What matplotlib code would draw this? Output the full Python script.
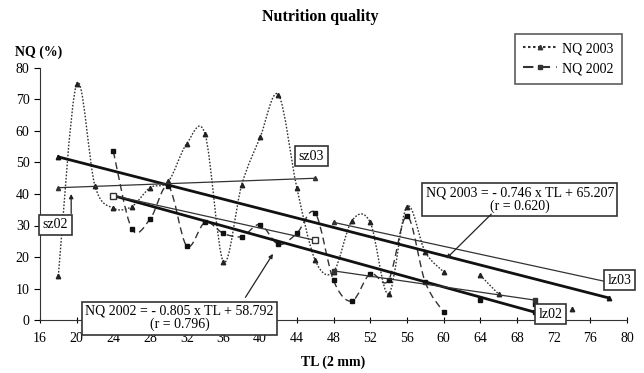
import numpy as np
import matplotlib.pyplot as plt
from matplotlib.path import Path
from matplotlib.patches import PathPatch

plt.rcParams['font.family'] = ['Liberation Serif', 'DejaVu Serif']

# NQ per length class (TL, 2 mm classes); nan = no value
tl = [18, 20, 22, 24, 26, 28, 30, 32, 34, 36, 38, 40, 42, 44, 46, 48, 50, 52,
      54, 56, 58, 60, 62, 64, 66, 68, 70, 72, 74]
nq_2003 = [14, 75, 42.5, 35.5, 36, 42, 44, 56, 59, 18.5, 43, 58, 71.5, 42, 19,
           15.3, 31.5, 31, 8.2, 36, 21.6, 15.3, np.nan, 14.2, 8.2, np.nan,
           np.nan, np.nan, 3.4]
nq_2002 = [np.nan, np.nan, np.nan, 53.5, 29, 32, 42.5, 23.5, 31, 27.5, 26.5,
           30.3, 24, 27.5, 34, 12.6, 6, 14.7, 12.6, 33, 12, 2.5, np.nan, 6.5,
           np.nan, np.nan, 5, np.nan, np.nan]

# regression lines (whole range)
reg_2003 = dict(a=-0.746, b=65.207, x0=18, x1=78)
reg_2002 = dict(a=-0.805, b=58.792, x0=24, x1=70)

# small / large size sub-lines
sz03_x, sz03_y = [18, 46], [42, 45]
lz03_x, lz03_y = [48, 78], [31, 12]
sz02_x, sz02_y = [24, 46], [39.5, 25.3]
lz02_x, lz02_y = [48, 70], [15.6, 6.3]


def smooth(ax, xs, ys, **kw):
    # excel-like smoothed line, split at gaps
    xs = np.asarray(xs, float)
    ys = np.asarray(ys, float)
    ok = ~np.isnan(ys)
    segs = []
    cur = []
    for i in range(len(xs)):
        if ok[i]:
            cur.append((xs[i], ys[i]))
        else:
            if cur:
                segs.append(cur)
            cur = []
    if cur:
        segs.append(cur)
    for s in segs:
        if len(s) < 2:
            continue
        p = np.array(s)
        verts = [p[0]]
        codes = [Path.MOVETO]
        for i in range(len(p) - 1):
            pm = p[i - 1] if i > 0 else p[i]
            pn = p[i + 2] if i + 2 < len(p) else p[i + 1]
            c1 = p[i] + (p[i + 1] - pm) / 6
            c2 = p[i + 1] - (pn - p[i]) / 6
            verts += [c1, c2, p[i + 1]]
            codes += [Path.CURVE4] * 3
        ax.add_patch(PathPatch(Path(verts, codes), fill=False, clip_on=False, **kw))


fig = plt.figure(figsize=(6.44, 3.73), dpi=100)
ax = fig.add_axes([40 / 644, 1 - 320 / 373, 587 / 644, 252 / 373])

# data curves
smooth(ax, tl, nq_2003, ec='#333333', lw=1.0, ls=(0, (1.2, 1.2)))
ax.plot(tl, nq_2003, ls='none', marker='^', ms=3.2, color='#222222', clip_on=False)
smooth(ax, tl, nq_2002, ec='#333333', lw=1.0, ls=(0, (5, 3)))
ax.plot(tl, nq_2002, ls='none', marker='s', ms=3.5, color='#111111', clip_on=False)

# regression lines
for r, m in [(reg_2003, '^'), (reg_2002, 's')]:
    xx = [r['x0'], r['x1']]
    yy = [r['a'] * v + r['b'] for v in xx]
    ax.plot(xx, yy, color='#111111', lw=2.0, marker=m, ms=3.2)

# sub lines
ax.plot(sz03_x, sz03_y, color='#333333', lw=0.9, marker='^', ms=3)
ax.plot(lz03_x, lz03_y, color='#333333', lw=0.9, marker='^', ms=3)
ax.plot(sz02_x, sz02_y, color='#333333', lw=0.9, marker='s', ms=3.8, mfc='white')
ax.plot(lz02_x, lz02_y, color='#333333', lw=0.9, marker='s', ms=3.2)

box = dict(boxstyle='square,pad=0.25', fc='white', ec='#333333', lw=1.2)
ax.text(45.6, 52, 'sz03', ha='center', va='center', fontsize=10, bbox=box)
ax.text(17.7, 30.3, 'sz02', ha='center', va='center', fontsize=10, bbox=box)
ax.text(79.2, 12.6, 'lz03', ha='center', va='center', fontsize=10, bbox=box)
ax.text(71.7, 1.8, 'lz02', ha='center', va='center', fontsize=10, bbox=box)

ax.text(68.3, 38.2, 'NQ 2003 = - 0.746 x TL + 65.207\n(r = 0.620)', ha='center',
        va='center', fontsize=10, linespacing=1.0,
        bbox=dict(boxstyle='square,pad=0.25', fc='white', ec='#333333', lw=1.2))
ax.text(31.2, 0.6, 'NQ 2002 = - 0.805 x TL + 58.792\n(r = 0.796)', ha='center',
        va='center', fontsize=10, linespacing=1.0,
        bbox=dict(boxstyle='square,pad=0.25', fc='white', ec='#333333', lw=1.2))

arr = dict(arrowstyle='-|>', lw=0.9, color='#222222', mutation_scale=6, shrinkA=0, shrinkB=0)
ax.annotate('', xy=(60.3, 19.5), xytext=(65.2, 33.6), arrowprops=arr)
ax.annotate('', xy=(41.4, 21), xytext=(38.4, 7.2), arrowprops=arr)
ax.annotate('', xy=(19.4, 40), xytext=(19.4, 33.8), arrowprops=arr)

ax.set_xlim(16, 80)
ax.set_ylim(0, 80)
ax.set_xticks(range(16, 81, 4))
ax.set_yticks(range(0, 81, 10))
ax.tick_params(axis='x', direction='inout', length=5, labelsize=10, pad=6)
ax.tick_params(axis='y', direction='out', length=4, labelsize=10)
for s in ['top', 'right']:
    ax.spines[s].set_visible(False)
for s in ['left', 'bottom']:
    ax.spines[s].set_color('#333333')
ax.set_xlabel('TL (2 mm)', fontsize=10, fontweight='bold', labelpad=8)
fig.text(15 / 644, 1 - 52 / 373, 'NQ (%)', fontsize=10, fontweight='bold', va='center')
fig.text(320 / 644, 1 - 17 / 373, 'Nutrition quality', fontsize=11.5, fontweight='bold',
         ha='center', va='center')

h1, = ax.plot([], [], color='#333333', ls=(0, (1.2, 1.2)), marker='^', ms=3.2)
h2, = ax.plot([], [], color='#333333', ls=(0, (5, 3)), marker='s', ms=3.5)
leg = fig.legend([h1, h2], ['NQ 2003', 'NQ 2002'], loc='upper right',
                 bbox_to_anchor=(622 / 644, 1 - 34 / 373), fontsize=10, frameon=True,
                 fancybox=False, edgecolor='#333333', handlelength=2.4, borderpad=0.6,
                 labelspacing=0.5, handletextpad=0.4, borderaxespad=0)
leg.get_frame().set_linewidth(1.2)

fig.savefig('out.png', dpi=100)
